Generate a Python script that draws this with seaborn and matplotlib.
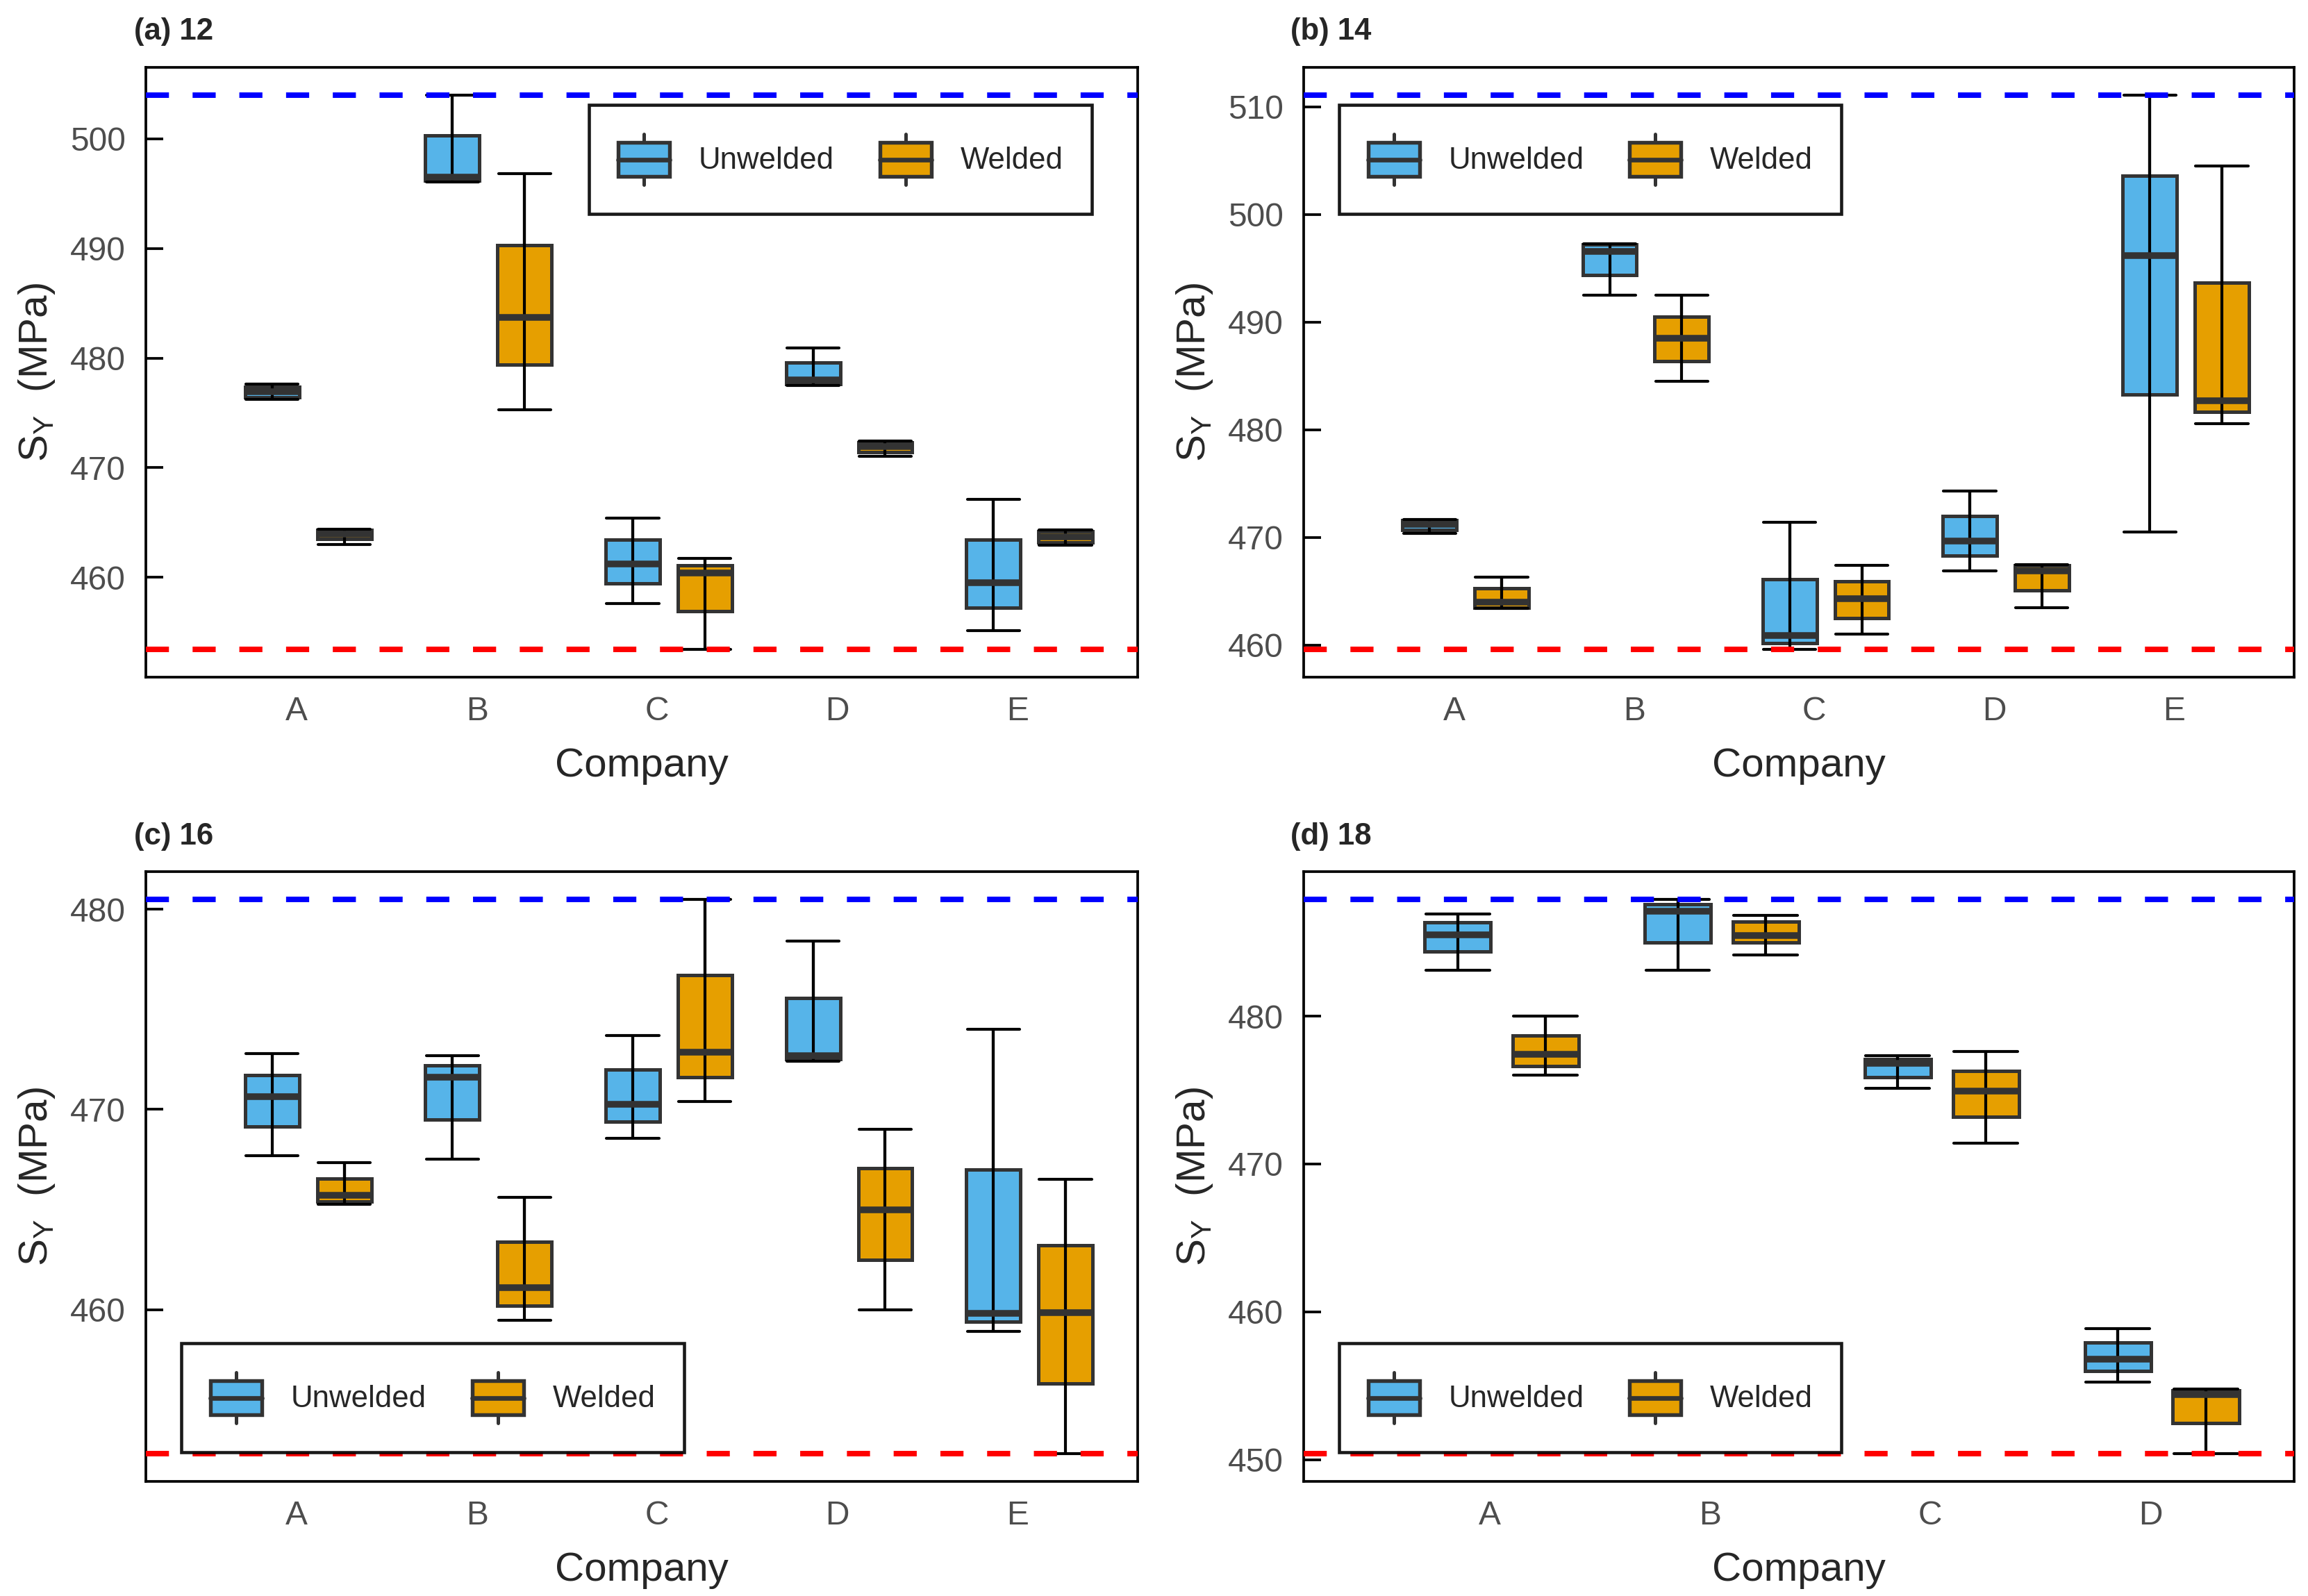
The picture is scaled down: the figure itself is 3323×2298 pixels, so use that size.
import matplotlib
matplotlib.use("Agg")
import matplotlib.pyplot as plt
import matplotlib.transforms as mtransforms
from matplotlib.legend_handler import HandlerBase
from matplotlib.patches import Patch, Rectangle
from matplotlib.lines import Line2D
import pandas as pd
import seaborn as sns

# categories
companies = ['A', 'B', 'C', 'D', 'E']
companies_18 = ['A', 'B', 'C', 'D']
conditions = ['Unwelded', 'Welded']
colors = ['#56B4E9', '#E69F00']
titles = ['(a) 12', '(b) 14', '(c) 16', '(d) 18']

# five-number summaries per company: [min, q1, median, q3, max]
unwelded_12 = [[476.2, 476.4, 476.9, 477.4, 477.6],
               [496.1, 496.2, 496.5, 500.3, 504.0],
               [457.6, 459.4, 461.2, 463.4, 465.4],
               [477.5, 477.6, 478.0, 479.6, 480.9],
               [455.1, 457.2, 459.5, 463.4, 467.1]]
welded_12 = [[463.0, 463.5, 463.9, 464.3, 464.4],
             [475.3, 479.4, 483.7, 490.3, 496.8],
             [453.4, 456.9, 460.4, 461.1, 461.7],
             [471.0, 471.4, 471.9, 472.3, 472.4],
             [462.9, 463.2, 463.7, 464.2, 464.3]]

unwelded_14 = [[470.4, 470.7, 471.2, 471.6, 471.7],
               [492.5, 494.4, 496.6, 497.2, 497.3],
               [459.6, 460.2, 460.9, 466.1, 471.4],
               [466.9, 468.3, 469.7, 472.0, 474.3],
               [470.5, 483.3, 496.2, 503.6, 511.1]]
welded_14 = [[463.4, 463.5, 464.0, 465.3, 466.3],
             [484.5, 486.4, 488.5, 490.5, 492.5],
             [461.0, 462.5, 464.3, 465.9, 467.4],
             [463.5, 465.1, 466.9, 467.4, 467.5],
             [480.6, 481.7, 482.7, 493.7, 504.5]]

unwelded_16 = [[467.7, 469.15, 470.65, 471.7, 472.8],
               [467.5, 469.5, 471.6, 472.2, 472.7],
               [468.55, 469.4, 470.25, 472.0, 473.7],
               [472.4, 472.5, 472.7, 475.55, 478.4],
               [458.9, 459.4, 459.8, 467.0, 474.0]]
welded_16 = [[465.25, 465.4, 465.7, 466.55, 467.35],
             [459.45, 460.2, 461.1, 463.4, 465.6],
             [470.4, 471.6, 472.85, 476.7, 480.5],
             [460.0, 462.5, 465.0, 467.05, 469.0],
             [452.8, 456.3, 459.85, 463.2, 466.5]]

unwelded_18 = [[483.1, 484.35, 485.5, 486.35, 486.9],
               [483.1, 485.0, 487.1, 487.55, 487.9],
               [475.1, 475.85, 476.8, 477.1, 477.3],
               [455.25, 456.0, 456.8, 457.9, 458.85]]
welded_18 = [[476.0, 476.6, 477.4, 478.7, 480.0],
             [484.15, 485.0, 485.45, 486.4, 486.8],
             [471.4, 473.2, 474.95, 476.3, 477.6],
             [450.4, 452.45, 454.4, 454.7, 454.75]]


def to_frame(unw, wel, comps):
    rows = []
    for cond, boxes in zip(conditions, [unw, wel]):
        for comp, stats in zip(comps, boxes):
            for v in stats:
                rows.append((comp, cond, v))
    return pd.DataFrame(rows, columns=['Company', 'Condition', 'SY'])


class BoxGlyph(HandlerBase):
    # little boxplot icon for the legend
    def create_artists(self, legend, orig_handle, xdescent, ydescent,
                       width, height, fontsize, trans):
        x0, y0 = -xdescent, -ydescent
        stub = 0.17 * height
        xm = x0 + width / 2
        edge = '#333333'
        lo = Line2D([xm, xm], [y0, y0 + stub], color=edge, lw=1.2, transform=trans)
        hi = Line2D([xm, xm], [y0 + height - stub, y0 + height], color=edge, lw=1.2, transform=trans)
        box = Rectangle((x0, y0 + stub), width, height - 2 * stub,
                        facecolor=orig_handle.get_facecolor(), edgecolor=edge,
                        lw=1.3, transform=trans)
        med = Line2D([x0, x0 + width], [y0 + height / 2] * 2, color=edge, lw=1.6, transform=trans)
        return [lo, hi, box, med]


sns.set_style('white')
plt.rcParams['font.family'] = ['Liberation Sans', 'DejaVu Sans']
plt.rcParams['mathtext.default'] = 'regular'

fig = plt.figure(figsize=(3323 / 300, 2298 / 300), dpi=300)

panels = [(unwelded_12, welded_12, companies),
          (unwelded_14, welded_14, companies),
          (unwelded_16, welded_16, companies),
          (unwelded_18, welded_18, companies_18)]
axes_rects = [[0.0632, 0.5757, 0.4297, 0.3821],
              [0.5648, 0.5757, 0.4291, 0.3821],
              [0.0632, 0.0718, 0.4297, 0.3821],
              [0.5648, 0.0718, 0.4291, 0.3821]]
title_xy = [(0.058, 0.980), (0.559, 0.980), (0.058, 0.476), (0.559, 0.476)]
legend_boxes = [('upper left', (0.447, 0.760, 0.507, 0.178)),
                ('upper left', (0.036, 0.760, 0.507, 0.178)),
                ('lower left', (0.036, 0.048, 0.507, 0.178)),
                ('lower left', (0.036, 0.048, 0.507, 0.178))]
yticks = [[460, 470, 480, 490, 500], [460, 470, 480, 490, 500, 510],
          [460, 470, 480], [450, 460, 470, 480]]

shift = mtransforms.ScaledTranslation(-4 / 72, 0, fig.dpi_scale_trans)

for i, (unw, wel, comps) in enumerate(panels):
    ax = fig.add_axes(axes_rects[i])
    df = to_frame(unw, wel, comps)
    sns.boxplot(data=df, x='Company', y='SY', hue='Condition', order=comps,
                hue_order=conditions, palette=colors, saturation=1,
                whis=(0, 100), width=0.8, gap=0.25, linecolor='#333333',
                linewidth=1.2, fliersize=0, legend=False, ax=ax,
                boxprops=dict(zorder=2),
                medianprops=dict(linewidth=2.3, zorder=2.3),
                whiskerprops=dict(color='black', linewidth=1.0, gid='whisker', zorder=2.2),
                capprops=dict(color='black', linewidth=1.0, zorder=2.2),
                capwidths=0.29)

    # run the whisker through the box, from min to max
    wl = [l for l in ax.lines if l.get_gid() == 'whisker']
    for lo, hi in zip(wl[0::2], wl[1::2]):
        lo.set_ydata([hi.get_ydata()[1], lo.get_ydata()[1]])

    top = df['SY'].max()
    bot = df['SY'].min()
    ax.axhline(top, color='blue', lw=1.9, linestyle=(0, (4.2, 4.3)), zorder=3)
    ax.axhline(bot, color='red', lw=1.9, linestyle=(0, (4.2, 4.3)), zorder=3)

    rng = top - bot
    ax.set_ylim(bot - 0.05 * rng, top + 0.05 * rng)
    ax.set_xlim(-0.9, len(comps) - 0.4)
    ax.set_yticks(yticks[i])

    ax.set_xlabel('Company', fontsize=14, labelpad=7)
    ax.set_ylabel('S$_{Y}$  (MPa)', fontsize=14, labelpad=4.5)
    ax.tick_params(axis='y', direction='in', length=6, width=0.9, color='black',
                   labelsize=11.5, labelcolor='#4D4D4D', pad=7, left=True)
    ax.tick_params(axis='x', length=0, labelsize=11.5, labelcolor='#4D4D4D', pad=6.5)
    for lab in ax.get_xticklabels():
        lab.set_transform(lab.get_transform() + shift)
    for sp in ax.spines.values():
        sp.set_visible(True)
        sp.set_color('black')
        sp.set_linewidth(0.9)

    handles = [Patch(facecolor=c, edgecolor='#333333') for c in colors]
    loc, bbox = legend_boxes[i]
    leg = ax.legend(handles, conditions, handler_map={Patch: BoxGlyph()},
                    loc=loc, bbox_to_anchor=bbox, mode='expand', ncol=2,
                    fontsize=10.5, frameon=True, fancybox=False, edgecolor='black',
                    framealpha=0.9, borderpad=0.95, handlelength=1.7,
                    handleheight=2.2, handletextpad=0.95, columnspacing=1.4,
                    borderaxespad=0)
    leg.get_frame().set_linewidth(1.1)
    leg.set_zorder(5)

    fig.text(title_xy[i][0], title_xy[i][1], titles[i], fontsize=10.5,
             fontweight='bold', ha='left', va='center')

fig.savefig('out.png', dpi=300)
